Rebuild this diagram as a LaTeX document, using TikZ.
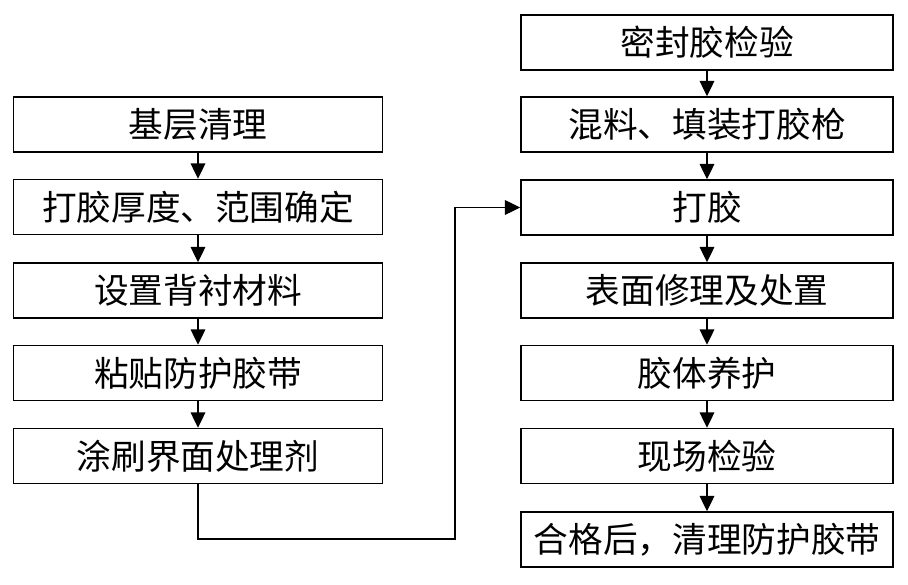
\documentclass[tikz,border=0pt]{standalone}
\usepackage{fontspec}
\newfontfamily\cjk{Noto Sans CJK SC}
\usetikzlibrary{arrows.meta}
\begin{document}
\begin{tikzpicture}[x=0.75pt,y=-0.75pt,
  stepbox/.style={draw=black,line width=1.1pt,minimum width=277pt,minimum height=41.25pt,inner sep=0pt,font=\cjk\fontsize{26pt}{28pt}\selectfont},
  flow/.style={line width=0.9pt,-{Triangle[length=11.5pt,width=11pt]}}]
\useasboundingbox (0,0) rectangle (908,585);
\fill[white] (0,0) rectangle (908,585);
% left column
\node[stepbox] (l1) at (198,124.5) {基层清理};
\node[stepbox] (l2) at (198,207) {打胶厚度、范围确定};
\node[stepbox] (l3) at (198,290.5) {设置背衬材料};
\node[stepbox] (l4) at (198,373) {粘贴防护胶带};
\node[stepbox] (l5) at (198,456) {涂刷界面处理剂};
% right column
\node[stepbox,minimum width=279pt] (r1) at (707,42.5) {密封胶检验};
\node[stepbox,minimum width=279pt] (r2) at (707,124.5) {混料、填装打胶枪};
\node[stepbox,minimum width=279pt] (r3) at (707,207.5) {打胶};
\node[stepbox,minimum width=279pt] (r4) at (707,290.5) {表面修理及处置};
\node[stepbox,minimum width=279pt] (r5) at (707,373) {胶体养护};
\node[stepbox,minimum width=279pt] (r6) at (707,456) {现场检验};
\node[stepbox,minimum width=279pt] (r7) at (707,539.5) {合格后，清理防护胶带};
% arrows
\draw[flow] (l1) -- (l2);
\draw[flow] (l2) -- (l3);
\draw[flow] (l3) -- (l4);
\draw[flow] (l4) -- (l5);
\draw[flow] (r1) -- (r2);
\draw[flow] (r2) -- (r3);
\draw[flow] (r3) -- (r4);
\draw[flow] (r4) -- (r5);
\draw[flow] (r5) -- (r6);
\draw[flow] (r6) -- (r7);
\coordinate (c1) at (198,539);
\coordinate (c2) at (455,539);
\coordinate (c3) at (455,207.5);
\draw[flow] (l5.south) -- (c1) -- (c2) -- (c3) -- (r3.west);
\end{tikzpicture}
\end{document}
